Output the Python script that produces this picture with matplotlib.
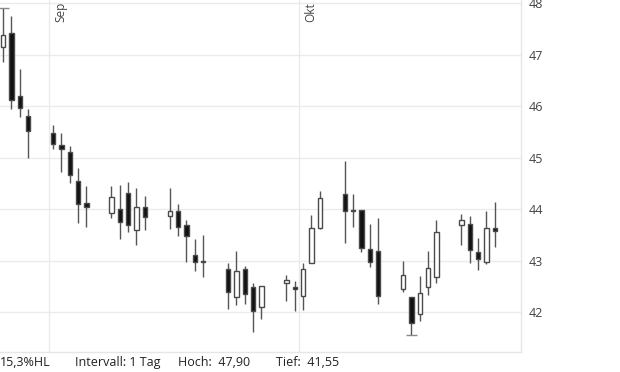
import datetime as dt
import matplotlib
matplotlib.use("Agg")
import matplotlib.pyplot as plt
import matplotlib.dates as mdates
import matplotlib.transforms as mtransforms

plt.rcParams['font.family'] = ['Open Sans', 'DejaVu Sans']

# daily candles
days = ["2025-08-26", "2025-08-27", "2025-08-28", "2025-08-29",
        "2025-09-01", "2025-09-02", "2025-09-03", "2025-09-04", "2025-09-05",
        "2025-09-08", "2025-09-09", "2025-09-10", "2025-09-11", "2025-09-12",
        "2025-09-15", "2025-09-16", "2025-09-17", "2025-09-18", "2025-09-19",
        "2025-09-22", "2025-09-23", "2025-09-24", "2025-09-25", "2025-09-26",
        "2025-09-29", "2025-09-30", "2025-10-01", "2025-10-02", "2025-10-03",
        "2025-10-06", "2025-10-07", "2025-10-08", "2025-10-09", "2025-10-10",
        "2025-10-13", "2025-10-14", "2025-10-15", "2025-10-16", "2025-10-17",
        "2025-10-20", "2025-10-21", "2025-10-22", "2025-10-23", "2025-10-24"]
opens = [47.15, 47.41, 46.19, 45.81,
         45.47, 45.24, 45.10, 44.54, 44.11,
         43.92, 44.01, 44.32, 43.60, 44.05,
         43.86, 43.96, 43.70, 43.10, 43.00,
         42.83, 42.30, 42.83, 42.48, 42.09,
         42.56, 42.48, 42.32, 42.96, 43.63,
         44.30, 43.99, 43.99, 43.22, 43.18,
         42.44, 42.29, 41.96, 42.48, 42.69,
         43.70, 43.72, 43.16, 42.97, 43.64]
highs = [47.90, 47.75, 46.72, 45.94,
         45.63, 45.48, 45.23, 44.79, 44.45,
         44.45, 44.47, 44.52, 44.41, 44.25,
         44.41, 44.10, 43.78, 43.41, 43.49,
         42.95, 43.18, 42.89, 42.56, 42.50,
         42.73, 42.60, 42.95, 43.88, 44.36,
         44.93, 44.30, 43.99, 43.72, 43.82,
         43.00, 42.29, 42.71, 43.18, 43.78,
         43.90, 43.86, 43.43, 43.96, 44.13]
lows = [46.86, 45.94, 45.78, 45.00,
        45.17, 44.72, 44.51, 43.73, 43.66,
        43.82, 43.41, 43.56, 43.31, 43.60,
        43.62, 43.48, 42.98, 42.79, 42.69,
        42.07, 42.14, 42.15, 41.61, 41.86,
        42.21, 42.03, 42.05, 42.95, 43.61,
        43.35, 43.66, 43.16, 42.87, 42.15,
        42.39, 41.55, 41.82, 42.34, 42.56,
        43.31, 42.95, 42.81, 42.93, 43.26]
closes = [47.38, 46.12, 45.96, 45.52,
          45.26, 45.16, 44.67, 44.09, 44.04,
          44.23, 43.74, 43.70, 44.05, 43.84,
          43.97, 43.66, 43.47, 42.97, 42.97,
          42.40, 42.79, 42.36, 42.03, 42.50,
          42.62, 42.44, 42.83, 43.63, 44.21,
          43.97, 43.97, 43.24, 42.98, 42.32,
          42.73, 41.78, 42.38, 42.85, 43.55,
          43.78, 43.20, 43.04, 43.63, 43.57]

month_starts = ["2025-09-01", "2025-10-01"]
month_labels = ["Sep", "Okt"]
y_ticks = [42, 43, 44, 45, 46, 47, 48]


def num(d):
    return mdates.date2num(dt.datetime.fromisoformat(d))


fig = plt.figure(figsize=(6.2, 3.72), dpi=100)
ax = fig.add_axes([0.0, 0.053, 0.8408, 0.947])

xs = [num(d) + 0.5 for d in days]

# wicks
ax.vlines(xs, lows, highs, color="#555555", linewidth=1.0, zorder=2)

# bodies
for x, o, c in zip(xs, opens, closes):
    face = "#111111" if c < o else "white"
    h = max(abs(c - o), 0.02)
    ax.bar(x, h, bottom=min(o, c), width=0.5, color=face,
           edgecolor="#4a4a4a", linewidth=1.0, zorder=3)

# high / low markers
i_hi = highs.index(max(highs))
i_lo = lows.index(min(lows))
ax.hlines(highs[i_hi], xs[i_hi] - 0.65, xs[i_hi] + 0.65, color="#8a8a8a", linewidth=1.0, zorder=2)
ax.hlines(lows[i_lo], xs[i_lo] - 0.65, xs[i_lo] + 0.65, color="#8a8a8a", linewidth=1.0, zorder=2)

# month grid + labels
trans = mtransforms.blended_transform_factory(ax.transData, ax.transAxes)
for m, lab in zip(month_starts, month_labels):
    ax.axvline(num(m), color="#ebebeb", linewidth=1.0, zorder=0)
    ax.text(num(m) + 0.65, 0.995, lab, transform=trans, rotation=90,
            ha="left", va="top", fontsize=8.5, color="#444444")

ax.set_xlim(num("2025-09-01") - 5.88, num("2025-09-01") + 56.68)
ax.set_ylim(41.22, 48.06)
ax.set_yticks(y_ticks)
ax.set_yticklabels([str(v) for v in y_ticks])
ax.yaxis.tick_right()
ax.tick_params(axis="y", length=0, pad=5, labelsize=9, labelcolor="#444444")
ax.set_xticks([])
ax.grid(axis="y", color="#ebebeb", linewidth=1.0, zorder=0)
ax.set_axisbelow(True)
for s in ["left", "top"]:
    ax.spines[s].set_visible(False)
for s in ["right", "bottom"]:
    ax.spines[s].set_color("#e6e6e6")
    ax.spines[s].set_linewidth(1.0)

# footer
hi = max(highs)
lo = min(lows)
hl = (hi - lo) / lo * 100
fmt = lambda v, n: ("%.*f" % (n, v)).replace(".", ",")
fig.text(0.0, 0.025, fmt(hl, 1) + "%HL", fontsize=9, color="#222222", va="center")
fig.text(75 / 620, 0.025, "Intervall: 1 Tag", fontsize=9, color="#222222", va="center")
fig.text(178 / 620, 0.025, "Hoch:  " + fmt(hi, 2), fontsize=9, color="#222222", va="center")
fig.text(276 / 620, 0.025, "Tief:  " + fmt(lo, 2), fontsize=9, color="#222222", va="center")

fig.savefig("out.png", dpi=100)
